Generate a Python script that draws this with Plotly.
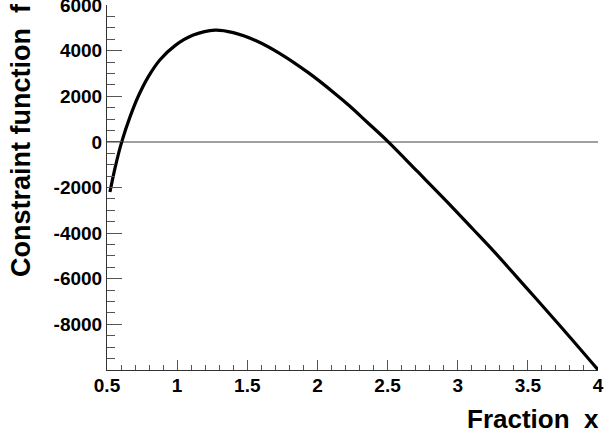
import plotly.graph_objects as go

# Data
fraction_x = [0.521, 0.557, 0.605, 0.664, 0.723, 0.794, 0.878, 0.985, 1.115, 1.27,
              1.40, 1.567, 1.733, 1.935, 2.113, 2.232, 2.351, 2.505, 2.707, 2.921,
              3.111, 3.253, 3.49, 3.729, 4.0]
constraint_f = [-2200, -1150, 0, 1095, 2000, 2850, 3600, 4220, 4680, 4900,
                4790, 4424, 3872, 3034, 2180, 1564, 883, 0, -1263, -2607,
                -3840, -4767, -6400, -8060, -9990]

x_tickvals = [0.5, 1, 1.5, 2, 2.5, 3, 3.5, 4]
x_ticktext = ["0.5", "1", "1.5", "2", "2.5", "3", "3.5", "4"]
y_tickvals = [-8000, -6000, -4000, -2000, 0, 2000, 4000, 6000]
y_ticktext = ["-8000", "-6000", "-4000", "-2000", "0", "2000", "4000", "6000"]

FONT = "Liberation Sans, Arial, Helvetica, sans-serif"

fig = go.Figure()
fig.add_trace(go.Scatter(x=fraction_x, y=constraint_f, mode="lines",
                         line=dict(color="black", width=3.2, shape="spline", smoothing=1.0),
                         showlegend=False, hoverinfo="skip"))

fig.add_shape(type="line", xref="paper", yref="y", x0=0, x1=1, y0=0, y1=0,
              line=dict(color="#808080", width=1.5), layer="below")

axis_common = dict(showline=True, linecolor="#333", linewidth=1, mirror=False,
                   showgrid=False, zeroline=False, automargin=False,
                   ticklabeloverflow="allow", tickwidth=1, tickcolor="#555",
                   tickfont=dict(family=FONT, size=19, weight="bold", color="black"))

fig.update_layout(
    width=605, height=437,
    margin=dict(l=107, r=7, t=5, b=67),
    paper_bgcolor="white", plot_bgcolor="white",
    font=dict(family=FONT, color="black"),
    xaxis=dict(range=[0.5, 4], tickmode="array", tickvals=x_tickvals, ticktext=x_ticktext,
               ticks="inside", ticklen=10, ticklabelstandoff=-2,
               minor=dict(tick0=0.5, dtick=0.1, ticks="inside", ticklen=5, tickcolor="#555", showgrid=False),
               **axis_common),
    yaxis=dict(range=[-10000, 6000], tickmode="array", tickvals=y_tickvals, ticktext=y_ticktext,
               ticks="inside", ticklen=15,
               minor=dict(tick0=0, dtick=500, ticks="inside", ticklen=8, tickcolor="#555", showgrid=False),
               **axis_common),
    annotations=[
        dict(text="Constraint function&nbsp;&nbsp;f", xref="paper", yref="paper",
             x=(21 - 107) / 491, y=(370 - 279) / 365.3, xanchor="center", yanchor="bottom",
             textangle=-90, showarrow=False,
             font=dict(family=FONT, size=27, weight="bold", color="black")),
        dict(text="Fraction&nbsp;&nbsp;x", xref="paper", yref="paper",
             x=1.0, y=(370 - 419) / 365.3, xanchor="right", yanchor="middle",
             xshift=3, showarrow=False,
             font=dict(family=FONT, size=26, weight="bold", color="black")),
    ],
)

fig.write_html("out.html", config={"displayModeBar": False},
               post_script="document.body.style.margin='0px';")
